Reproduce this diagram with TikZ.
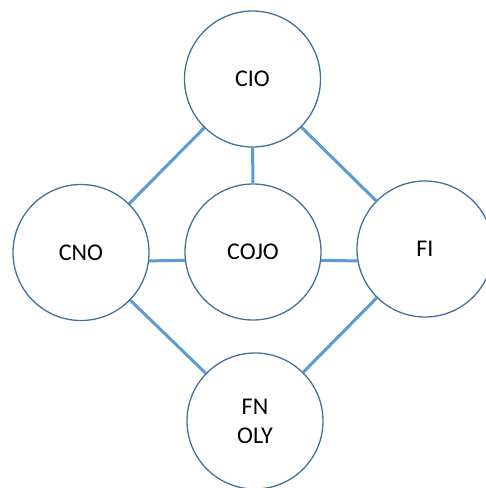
\documentclass[tikz,border=0pt]{standalone}
\usepackage{fontspec}
\setmainfont{Carlito}
\usepackage{tikz}

\definecolor{ringblue}{HTML}{41719C}
\definecolor{linkblue}{HTML}{5B9BD5}

\begin{document}
\begin{tikzpicture}[x=1pt,y=-1pt]
    \tikzstyle{role}=[circle,draw=ringblue,line width=1.3pt,fill=white,minimum size=136pt,inner sep=0pt,align=center,font=\fontsize{24}{29}\selectfont]
    \tikzstyle{link}=[draw=linkblue,line width=3pt]

    % Fix the page to the size of the reference
    \useasboundingbox (0,0) rectangle (486,488);

    % Draw the five circles
    \node[role] (CIO) at (252.5,79) {CIO};
    \node[role] (CNO) at (81,252.5) {CNO};
    \node[role] (COJO) at (253,252) {COJO};
    \node[role] (FI) at (425,249) {FI};
    \node[role] (FNOLY) at (255,421) {FN\\OLY};

    % Connect the circles along the lines between their centres
    \foreach \source / \dest in {CIO/CNO,CIO/COJO,CIO/FI,CNO/FNOLY,FI/FNOLY}
        \path[link] (\source) -- (\dest);

    % The two side links sit a little below the centres
    \path[link] (CNO.-7) -- (COJO.-173);
    \path[link] (COJO.-7) -- (FI.-170.7);

\end{tikzpicture}
\end{document}
